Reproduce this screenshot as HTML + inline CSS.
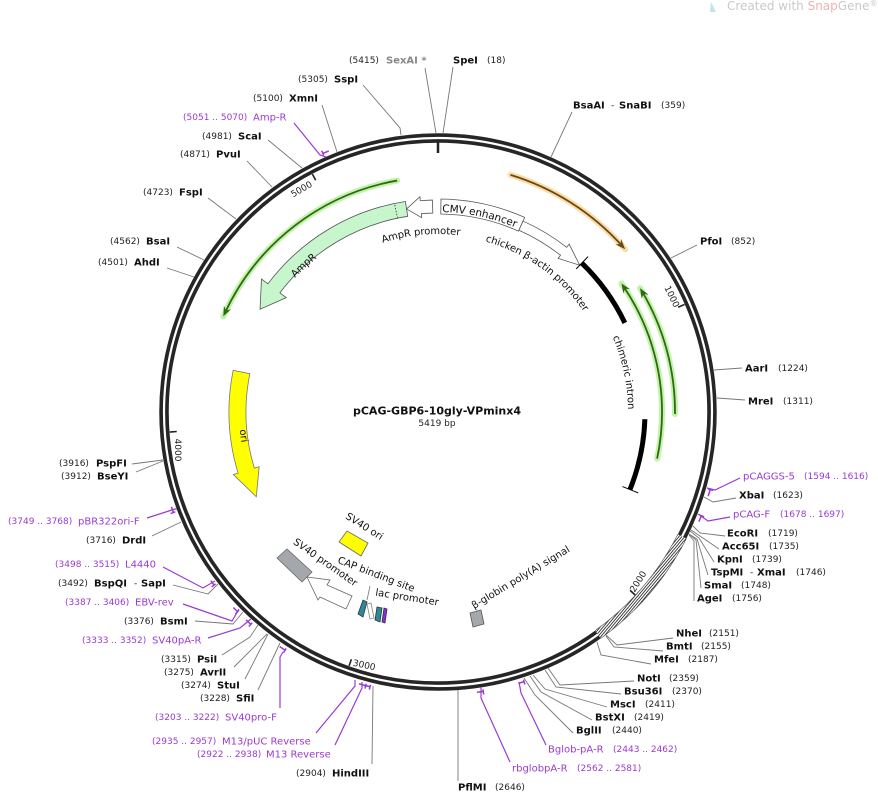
<!DOCTYPE html>
<html><head><meta charset="utf-8"><style>
html,body{margin:0;padding:0;background:#fff;}
svg{display:block;}
text{font-family:"DejaVu Sans","Liberation Sans",sans-serif;dominant-baseline:central;}
.n{font-size:10px;font-weight:bold;fill:#111;}
.c{font-size:9px;fill:#222;}
.p{font-size:10px;fill:#9a3ad2;}
.pc{font-size:9px;fill:#9a3ad2;}
.f{font-size:10px;fill:#111;}
.l{stroke:#777;stroke-width:0.9;fill:none;}
.lp{stroke:#9a3ad2;stroke-width:1.2;fill:none;}
</style></head><body>
<svg id="s" width="878" height="795" viewBox="0 0 878 795" xmlns="http://www.w3.org/2000/svg">
<defs>
<pattern id="hatch" width="2.2" height="2.2" patternUnits="userSpaceOnUse" patternTransform="rotate(40)">
<rect width="2.2" height="2.2" fill="#fff"/><rect width="0.9" height="2.2" fill="#333"/>
</pattern>
<path id="tCMV" d="M441.5,209 A203,203 0 0 1 517.3,225.1"/>
<path id="tAmpP" d="M379.1,240.9 A181,181 0 0 1 463.2,232.8"/>
<path id="tChk" d="M481.5,237.3 A180,180 0 0 1 589,314"/>
<path id="tInt" d="M611.5,327.4 A193,193 0 0 1 630.9,418.7"/>
<path id="tAmpR" d="M275,297.9 A199,199 0 0 1 338.5,239.7"/>
<path id="tOri" d="M243.9,384.7 A196,196 0 0 0 256.3,485.4"/>
</defs>

<path d="M711,2 L716,12 L710,12 Z" fill="#bfe3ef"/>
<text x="727" y="6" style="font-size:12px;fill:#c9c9c9">Created with <tspan fill="#eab4b4">Snap</tspan>Gene<tspan font-size="8" dy="-3">®</tspan></text>

<g id="g"></g>

<g id="labels">
<text class="f" style="font-size:10.5px"><textPath href="#tCMV" startOffset="50%" text-anchor="middle">CMV enhancer</textPath></text>
<text class="f"><textPath href="#tAmpP" startOffset="50%" text-anchor="middle">AmpR promoter</textPath></text>
<text class="f"><textPath href="#tChk" startOffset="50%" text-anchor="middle">chicken β-actin promoter</textPath></text>
<text class="f"><textPath href="#tInt" startOffset="50%" text-anchor="middle">chimeric intron</textPath></text>
<text class="f"><textPath href="#tAmpR" startOffset="50%" text-anchor="middle">AmpR</textPath></text>
<text class="f"><textPath href="#tOri" startOffset="50%" text-anchor="middle">ori</textPath></text>
<text class="f" transform="translate(364,527) rotate(32)" text-anchor="middle">SV40 ori</text>
<text class="f" transform="translate(325,563) rotate(35)" text-anchor="middle">SV40 promoter</text>
<text class="f" transform="translate(376,575) rotate(21)" text-anchor="middle">CAP binding site</text>
<text class="f" transform="translate(407,598) rotate(9)" text-anchor="middle">lac promoter</text>
<text class="f" transform="translate(521,578) rotate(-31)" text-anchor="middle">β-globin poly(A) signal</text>
</g>

<text x="437" y="411" text-anchor="middle" style="font-size:11px;font-weight:bold;fill:#111">pCAG-GBP6-10gly-VPminx4</text>
<text x="437" y="424" text-anchor="middle" style="font-size:9px;fill:#222">5419 bp</text>

<text class="c" transform="translate(671,297) rotate(64)" text-anchor="middle">1000</text>
<text class="c" transform="translate(639,582) rotate(-58)" text-anchor="middle">2000</text>
<text class="c" transform="translate(364,666) rotate(12)" text-anchor="middle">3000</text>
<text class="c" transform="translate(177,450) rotate(90)" text-anchor="middle">4000</text>
<text class="c" transform="translate(302,190) rotate(-30)" text-anchor="middle">5000</text>

<g>
<polyline class="l" points="425,68 436,133"/>
<polyline class="l" points="453,67 443,133"/>
<polyline class="l" points="363,85 400,128 401,135"/>
<polyline class="l" points="322,105 337,152"/>
<polyline class="lp" points="294,123 320,155 326,157"/>
<polyline class="l" points="268,140 302,168"/>
<polyline class="l" points="247,161 272,187"/>
<polyline class="l" points="208,198 236,219"/>
<polyline class="l" points="177,247 204,260"/>
<polyline class="l" points="167,268 194,277"/>
<polyline class="l" points="572,112 551,157"/>
<polyline class="l" points="697,245 671,258"/>
<polyline class="l" points="742,368 714,370"/>
<polyline class="l" points="745,400 717,398"/>
<polyline class="lp" points="740,478 715,490 707,488"/>
<polyline class="l" points="736,498 713,502 704,497"/>
<polyline class="lp" points="730,517 708,521 698,514"/>
<polyline class="l" points="725,536 700,533 693,526"/>
<polyline class="l" points="719,549 700,536 691,530"/>
<polyline class="l" points="714,562 699,538 690,531"/>
<polyline class="l" points="708,575 697,539 689,534"/>
<polyline class="l" points="701,588 696,540 689,534"/>
<polyline class="l" points="694,601 694,541 689,535"/>
<polyline class="l" points="673,638 617,645 606,635"/>
<polyline class="l" points="663,651 614,647 606,636"/>
<polyline class="l" points="651,664 601,655 597,642"/>
<polyline class="l" points="634,681 560,685 548,668"/>
<polyline class="l" points="621,694 556,687 545,670"/>
<polyline class="l" points="607,707 545,689 533,675"/>
<polyline class="l" points="592,720 541,692 530,676"/>
<polyline class="l" points="573,733 535,695 524,678"/>
<polyline class="lp" points="546,745 521,693 519,682"/>
<polyline class="lp" points="510,762 481,698 481,687"/>
<polyline class="l" points="458,781 458,690"/>
<polyline class="l" points="372,764 373,686"/>
<polyline class="lp" points="335,745 362,688 362,682"/>
<polyline class="lp" points="316,733 355,686 355,680"/>
<polyline class="lp" points="280,708 280,657 283,652"/>
<polyline class="l" points="258,690 280,643"/>
<polyline class="l" points="245,679 268,634"/>
<polyline class="l" points="234,667 267,634"/>
<polyline class="l" points="222,655 250,637 258,625"/>
<polyline class="lp" points="208,638 240,628 251,619"/>
<polyline class="l" points="195,621 233,624 243,612"/>
<polyline class="lp" points="183,604 232,621 239,609"/>
<polyline class="l" points="173,585 208,594 218,584"/>
<polyline class="lp" points="163,567 203,588 215,581"/>
<polyline class="l" points="152,536 181,522"/>
<polyline class="lp" points="147,518 175,509 177,509"/>
<polyline class="l" points="132,464 163,460"/>
<polyline class="l" points="136,472 163,461"/>
</g>

<g>
<text class="c" x="349" y="61">(5415)</text><text class="n" x="386" y="61" style="fill:#888">SexAI *</text>
<text class="n" x="453" y="61">SpeI</text><text class="c" x="487" y="61">(18)</text>
<text class="c" x="298" y="80">(5305)</text><text class="n" x="334" y="80">SspI</text>
<text class="c" x="253" y="99">(5100)</text><text class="n" x="289" y="99">XmnI</text>
<text class="pc" x="183" y="118">(5051 .. 5070)</text><text class="p" x="253" y="118">Amp-R</text>
<text class="c" x="202" y="137">(4981)</text><text class="n" x="238" y="137">ScaI</text>
<text class="c" x="180" y="155">(4871)</text><text class="n" x="216" y="155">PvuI</text>
<text class="c" x="143" y="193">(4723)</text><text class="n" x="179" y="193">FspI</text>
<text class="c" x="110" y="242">(4562)</text><text class="n" x="146" y="242">BsaI</text>
<text class="c" x="98" y="263">(4501)</text><text class="n" x="134" y="263">AhdI</text>
<text class="n" x="573" y="106">BsaAI</text><text class="c" x="611" y="106">-</text><text class="n" x="619" y="106">SnaBI</text><text class="c" x="661" y="106">(359)</text>
<text class="n" x="700" y="242">PfoI</text><text class="c" x="731" y="242">(852)</text>
<text class="n" x="745" y="369">AarI</text><text class="c" x="778" y="369">(1224)</text>
<text class="n" x="748" y="402">MreI</text><text class="c" x="783" y="402">(1311)</text>
<text class="p" x="743" y="477">pCAGGS-5</text><text class="pc" x="804" y="477">(1594 .. 1616)</text>
<text class="n" x="739" y="496">XbaI</text><text class="c" x="773" y="496">(1623)</text>
<text class="p" x="733" y="515">pCAG-F</text><text class="pc" x="780" y="515">(1678 .. 1697)</text>
<text class="n" x="727" y="534">EcoRI</text><text class="c" x="768" y="534">(1719)</text>
<text class="n" x="722" y="547">Acc65I</text><text class="c" x="769" y="547">(1735)</text>
<text class="n" x="717" y="560">KpnI</text><text class="c" x="752" y="560">(1739)</text>
<text class="n" x="711" y="573">TspMI</text><text class="c" x="750" y="573">-</text><text class="n" x="757" y="573">XmaI</text><text class="c" x="796" y="573">(1746)</text>
<text class="n" x="704" y="586">SmaI</text><text class="c" x="741" y="586">(1748)</text>
<text class="n" x="697" y="599">AgeI</text><text class="c" x="732" y="599">(1756)</text>
<text class="n" x="676" y="634">NheI</text><text class="c" x="709" y="634">(2151)</text>
<text class="n" x="666" y="647">BmtI</text><text class="c" x="701" y="647">(2155)</text>
<text class="n" x="654" y="660">MfeI</text><text class="c" x="688" y="660">(2187)</text>
<text class="n" x="637" y="679">NotI</text><text class="c" x="669" y="679">(2359)</text>
<text class="n" x="624" y="692">Bsu36I</text><text class="c" x="672" y="692">(2370)</text>
<text class="n" x="610" y="705">MscI</text><text class="c" x="645" y="705">(2411)</text>
<text class="n" x="595" y="718">BstXI</text><text class="c" x="634" y="718">(2419)</text>
<text class="n" x="576" y="731">BglII</text><text class="c" x="612" y="731">(2440)</text>
<text class="p" x="548" y="750">Bglob-pA-R</text><text class="pc" x="613" y="750">(2443 .. 2462)</text>
<text class="p" x="512" y="769">rbglobpA-R</text><text class="pc" x="577" y="769">(2562 .. 2581)</text>
<text class="n" x="458" y="788">PflMI</text><text class="c" x="495" y="788">(2646)</text>
<text class="c" x="296" y="774">(2904)</text><text class="n" x="332" y="774">HindIII</text>
<text class="pc" x="197" y="755">(2922 .. 2938)</text><text class="p" x="266" y="755">M13 Reverse</text>
<text class="pc" x="152" y="742">(2935 .. 2957)</text><text class="p" x="222" y="742">M13/pUC Reverse</text>
<text class="pc" x="155" y="718">(3203 .. 3222)</text><text class="p" x="225" y="718">SV40pro-F</text>
<text class="c" x="200" y="699">(3228)</text><text class="n" x="236" y="699">SfiI</text>
<text class="c" x="181" y="686">(3274)</text><text class="n" x="217" y="686">StuI</text>
<text class="c" x="164" y="673">(3275)</text><text class="n" x="200" y="673">AvrII</text>
<text class="c" x="161" y="660">(3315)</text><text class="n" x="197" y="660">PsiI</text>
<text class="pc" x="82" y="641">(3333 .. 3352)</text><text class="p" x="152" y="641">SV40pA-R</text>
<text class="c" x="124" y="622">(3376)</text><text class="n" x="160" y="622">BsmI</text>
<text class="pc" x="65" y="603">(3387 .. 3406)</text><text class="p" x="135" y="603">EBV-rev</text>
<text class="c" x="58" y="584">(3492)</text><text class="n" x="94" y="584">BspQI</text><text class="c" x="134" y="584">-</text><text class="n" x="141" y="584">SapI</text>
<text class="pc" x="55" y="565">(3498 .. 3515)</text><text class="p" x="125" y="565">L4440</text>
<text class="c" x="86" y="541">(3716)</text><text class="n" x="122" y="541">DrdI</text>
<text class="pc" x="8" y="522">(3749 .. 3768)</text><text class="p" x="78" y="522">pBR322ori-F</text>
<text class="c" x="59" y="464">(3916)</text><text class="n" x="96" y="464">PspFI</text>
<text class="c" x="61" y="477">(3912)</text><text class="n" x="97" y="477">BseYI</text>
</g>
</svg>
<script>
(function(){
var NS="http://www.w3.org/2000/svg",g=document.getElementById("g"),CX=438,CY=412;
function P(r,a){a=a*Math.PI/180;return [CX+r*Math.sin(a),CY-r*Math.cos(a)];}
function f(p){return p[0].toFixed(2)+","+p[1].toFixed(2);}
function arc(r,a1,a2){var s=a2>a1?1:0,l=Math.abs(a2-a1)>180?1:0;return "A"+r+","+r+" 0 "+l+" "+s+" "+f(P(r,a2));}
function el(t,at){var e=document.createElementNS(NS,t);for(var k in at)e.setAttribute(k,at[k]);g.appendChild(e);return e;}
function arcP(r,a1,a2){return "M"+f(P(r,a1))+arc(r,a1,a2);}
function band(r1,r2,a1,a2,fill,stroke){return el("path",{d:"M"+f(P(r2,a1))+arc(r2,a1,a2)+"L"+f(P(r1,a2))+arc(r1,a2,a1)+"Z",fill:fill,stroke:stroke,"stroke-width":0.8});}
function arrow(r1,r2,a1,a2,hl,hw,fill,stroke){var d=a2>a1?1:-1,ab=a2-d*hl,rm=(r1+r2)/2;
 return el("path",{d:"M"+f(P(r2,a1))+arc(r2,a1,ab)+"L"+f(P(r2+hw,ab))+"L"+f(P(rm,a2))+"L"+f(P(r1-hw,ab))+"L"+f(P(r1,ab))+arc(r1,ab,a1)+"Z",fill:fill,stroke:stroke,"stroke-width":0.8,"stroke-linejoin":"miter"});}
function lineArrow(r,a1,a2,glow,col){var d=a2>a1?1:-1;
 el("path",{d:arcP(r,a1,a2),fill:"none",stroke:glow,"stroke-width":6,"stroke-linecap":"round","stroke-opacity":0.85});
 el("path",{d:arcP(r,a1,a2-d*1),fill:"none",stroke:col,"stroke-width":1.8});
 var t=P(r,a2),b1=P(r+4,a2-d*2.4),b2=P(r-4,a2-d*2.4),b=P(r,a2-d*1.6);
 el("path",{d:"M"+f(t)+"L"+f(b1)+"L"+f(b)+"L"+f(b2)+"Z",fill:col});}
function rad(r1,r2,a,c,w){return el("path",{d:"M"+f(P(r1,a))+"L"+f(P(r2,a)),stroke:c,"stroke-width":w});}
el("circle",{cx:CX,cy:CY,r:274,fill:"none",stroke:"#262626","stroke-width":9.5});
el("circle",{cx:CX,cy:CY,r:274,fill:"none",stroke:"#fff","stroke-width":2.2});
el("path",{d:arcP(274,117,144.3),fill:"none",stroke:"url(#hatch)","stroke-width":9.5});
el("path",{d:arcP(278.8,117,144.3),fill:"none",stroke:"#555","stroke-width":0.6});
el("path",{d:arcP(269.2,117,144.3),fill:"none",stroke:"#555","stroke-width":0.6});
rad(259,270,0,"#222",2.5);
[66.43,132.87,199.3,265.73,332.17].forEach(function(a){rad(262,269,a,"#222",1.6);});
function br(a1,a2){el("path",{d:arcP(283,a1,a2),fill:"none",stroke:"#9a3ad2","stroke-width":1.5});rad(281,286,a1,"#9a3ad2",1.5);}
br(336,337.3);br(105.9,107.3);br(111.5,112.8);br(162.3,163.5);br(170.8,172.1);br(193.9,195);br(194.8,196.2);br(212.7,214);br(221.4,222.7);br(225.1,226.3);br(232.3,233.4);br(249.2,250.4);
lineArrow(235,-10,-66,"#b9f19c","#2d6a10");
lineArrow(248,17,49,"#f9d59a","#6a4a10");
lineArrow(224,102,55,"#b9f19c","#2d6a10");
lineArrow(237,90.5,58.5,"#b9f19c","#2d6a10");
arrow(198,213,-8.8,-60,7,8,"#c7f5cc","#555");
rad(198,213,-11.8,"#333",0.8).setAttribute("stroke-dasharray","1.5,1.5");
arrow(199,212,-1.5,-8.8,4,4,"#fff","#555");
band(198,213,0.8,24,"#fff","#555");
arrow(199,209,24,44,6,4,"#fff","#555");
el("path",{d:arcP(207,44,64.5),fill:"none",stroke:"#000","stroke-width":5});
el("path",{d:arcP(207,92,112),fill:"none",stroke:"#000","stroke-width":5});
rad(199,216,44,"#000",1);rad(199,216,112,"#000",1);
arrow(192,209,281.5,245,8,5,"#ffff00","#777");
function poly(pts,fill,stroke){return el("polygon",{points:pts,fill:fill,stroke:stroke,"stroke-width":0.8});}
poly("339,542 347,531 368,543 361,556","#ffff00","#666");
poly("277,558 287,549 312,572 302,582","#a4a8ad","#666");
poly("307,577 330,580 327,585 352,596 346,609 320,597 318,600","#fff","#666");
poly("358,614 363,600 367,602 363,617","#2b8a99","#333");
poly("375,620 377,607 382,608 380,622","#2b8a99","#333");
poly("382,622 384,608 387,609 385,623","#8a2be2","#333");
poly("367,604 371,603 374,618 370,619","#fff","#888");
el("path",{d:"M370,586 L367,600",stroke:"#777","stroke-width":0.8});
poly("470,613 481,610 484,624 473,627","#a4a8ad","#555");
})();
</script>
</body></html>
